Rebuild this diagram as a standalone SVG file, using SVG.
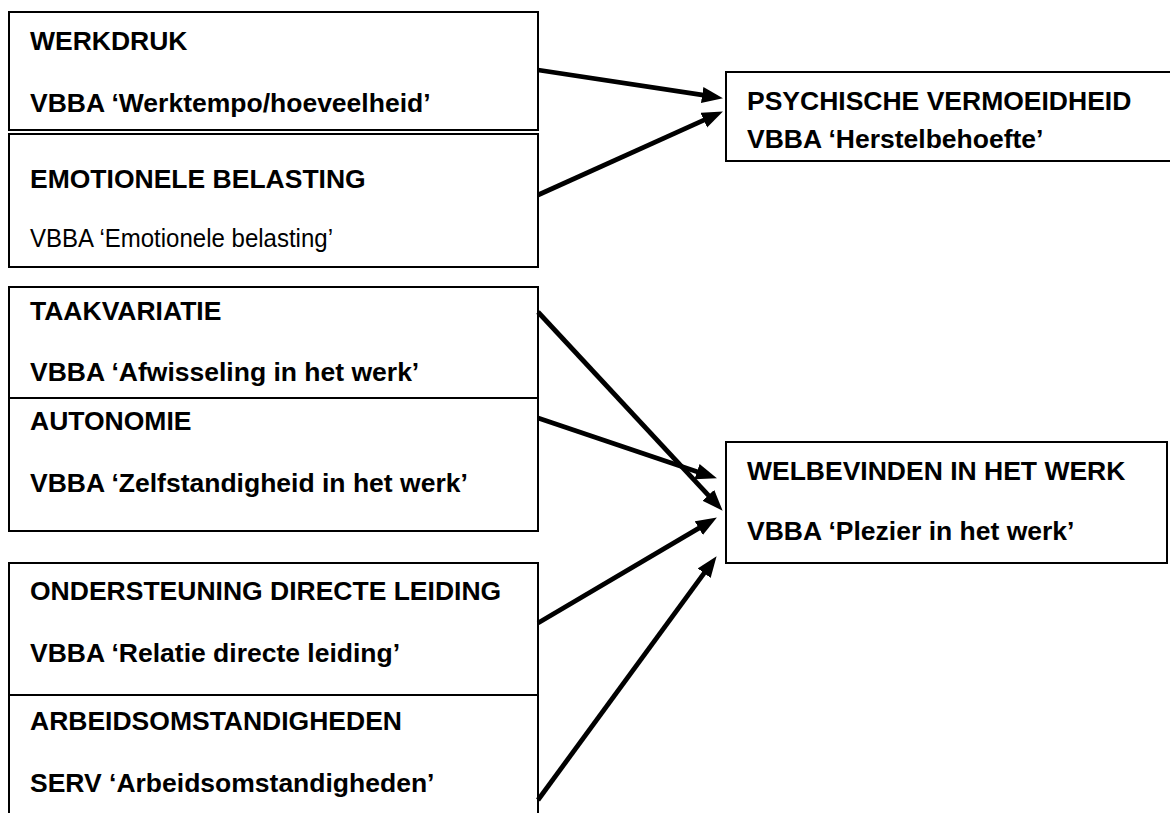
<svg xmlns="http://www.w3.org/2000/svg" width="1170" height="813" viewBox="0 0 1170 813">
<style>
.box{fill:#fff;stroke:#000;stroke-width:2}
.t{font-family:"Liberation Sans",Arial,sans-serif;font-size:26.5px;font-weight:bold;fill:#000}
.n{font-family:"Liberation Sans",Arial,sans-serif;font-size:26.5px;font-weight:normal;fill:#000}
.c{stroke:#000;stroke-width:4.8;fill:none;marker-end:url(#ah)}
</style>
<defs>
<marker id="ah" markerUnits="userSpaceOnUse" markerWidth="24" markerHeight="18" refX="8" refY="8" orient="auto">
<path d="M0,0 L21,8 L0,16 z" fill="#000"/>
</marker>
</defs>
<rect width="1170" height="813" fill="#fff"/>
<g id="werkdruk"><rect class="box" x="9" y="12" width="529" height="118"/>
<text class="t" x="30" y="50">WERKDRUK</text><text class="t" x="30" y="112">VBBA ‘Werktempo/hoeveelheid’</text></g>
<g id="emotionele"><rect class="box" x="9" y="134" width="529" height="133"/>
<text class="t" x="30" y="188">EMOTIONELE BELASTING</text><text class="n" x="30" y="247" textLength="303" lengthAdjust="spacingAndGlyphs">VBBA ‘Emotionele belasting’</text></g>
<g id="psychische"><rect class="box" x="726" y="72" width="460" height="89"/>
<text class="t" x="747" y="110">PSYCHISCHE VERMOEIDHEID</text><text class="t" x="747" y="148">VBBA ‘Herstelbehoefte’</text></g>
<g id="taakvariatie"><rect class="box" x="9" y="287" width="529" height="111"/>
<text class="t" x="30" y="320">TAAKVARIATIE</text><text class="t" x="30" y="381">VBBA ‘Afwisseling in het werk’</text></g>
<g id="autonomie"><rect class="box" x="9" y="398" width="529" height="133"/>
<text class="t" x="30" y="430">AUTONOMIE</text><text class="t" x="30" y="492">VBBA ‘Zelfstandigheid in het werk’</text></g>
<g id="welbevinden"><rect class="box" x="726" y="442" width="441" height="121"/>
<text class="t" x="747" y="480">WELBEVINDEN IN HET WERK</text><text class="t" x="747" y="540">VBBA ‘Plezier in het werk’</text></g>
<g id="ondersteuning"><rect class="box" x="9" y="563" width="529" height="132"/>
<text class="t" x="30" y="600">ONDERSTEUNING DIRECTE LEIDING</text><text class="t" x="30" y="662">VBBA ‘Relatie directe leiding’</text></g>
<g id="arbeidsomstandigheden"><rect class="box" x="9" y="695" width="529" height="140"/>
<text class="t" x="30" y="730">ARBEIDSOMSTANDIGHEDEN</text><text class="t" x="30" y="792">SERV ‘Arbeidsomstandigheden’</text></g>
<g id="connectors">
<line class="c" x1="538" y1="70" x2="710.1" y2="96.2"/>
<line class="c" x1="538" y1="195" x2="711.1" y2="116.9"/>
<line class="c" x1="538" y1="312" x2="713.8" y2="501.2"/>
<line class="c" x1="538" y1="418" x2="704.6" y2="474.2"/>
<line class="c" x1="538" y1="623" x2="705.7" y2="524.1"/>
<line class="c" x1="538" y1="800" x2="708.9" y2="566.7"/>
</g>
</svg>
